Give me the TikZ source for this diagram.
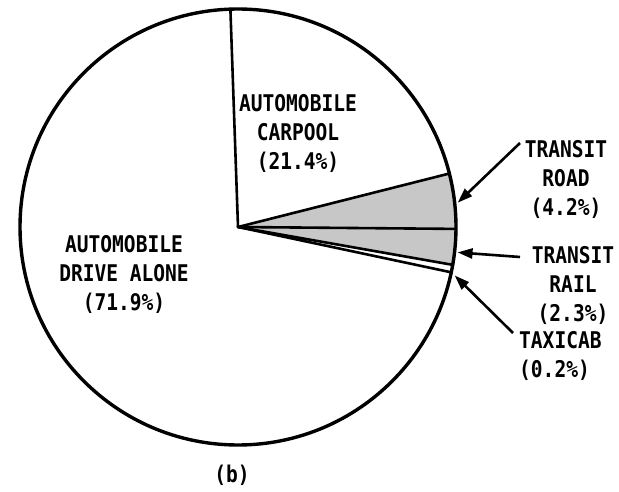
\documentclass[tikz,border=0pt]{standalone}
\usepackage{fontspec}
\usetikzlibrary{arrows.meta,calc}
\newfontfamily\labfont[FakeStretch=0.85]{DejaVu Sans Mono}
\begin{document}
\begin{tikzpicture}[x=1pt,y=1pt,
  lab/.style={font=\labfont\bfseries\fontsize{23}{29}\selectfont, align=center, inner sep=0pt},
  slice/.style={line width=2.6pt},
  pointer/.style={line width=2.6pt, -{Triangle[length=15pt,width=10pt]}}]
\useasboundingbox (0,0) rectangle (619,491);
\coordinate (C) at (238,264);
\def\R{218}
% shaded transit slices
\fill[black!22] (C) -- ++(14.2:\R) arc[start angle=14.2, end angle=-10, radius=\R] -- cycle;
% circle
\draw[line width=3.4pt] (C) circle[radius=\R];
% slice boundaries
\coordinate (b1) at ($(C)+(92:\R)$);
\coordinate (b2) at ($(C)+(14.2:\R)$);
\coordinate (b3) at ($(C)+(-0.5:\R)$);
\coordinate (b4) at ($(C)+(-10:\R)$);
\coordinate (b5) at ($(C)+(-12:\R)$);
\foreach \b in {b1,b2,b3,b4,b5} \draw[slice, line cap=round] (C) -- (\b);
% arrow targets on the rim
\coordinate (troad) at ($(C)+(6.3:\R+3)$);
\coordinate (trail) at ($(C)+(-6.6:\R+3)$);
\coordinate (ttaxi) at ($(C)+(-12.6:\R+4)$);
% labels
\node[lab] (carpool) at (298,358) {AUTOMOBILE\\CARPOOL\\(21.4\%)};
\node[lab] (alone) at (124,217) {AUTOMOBILE\\DRIVE ALONE\\(71.9\%)};
\node[lab] (road) at (566,312) {TRANSIT\\ROAD\\(4.2\%)};
\node[lab] (rail) at (573,206) {TRANSIT\\RAIL\\(2.3\%)};
\node[lab, align=left, anchor=west] (taxi) at (519,135) {TAXICAB\\(0.2\%)};
\node[lab] (fig) at (232,16) {(b)};
% arrow tails
\coordinate (froad) at (520,348);
\coordinate (frail) at (520,234);
\coordinate (ftaxi) at (513,158);
\draw[pointer] (froad) -- (troad);
\draw[pointer] (frail) -- (trail);
\draw[pointer] (ftaxi) -- (ttaxi);
\end{tikzpicture}
\end{document}
